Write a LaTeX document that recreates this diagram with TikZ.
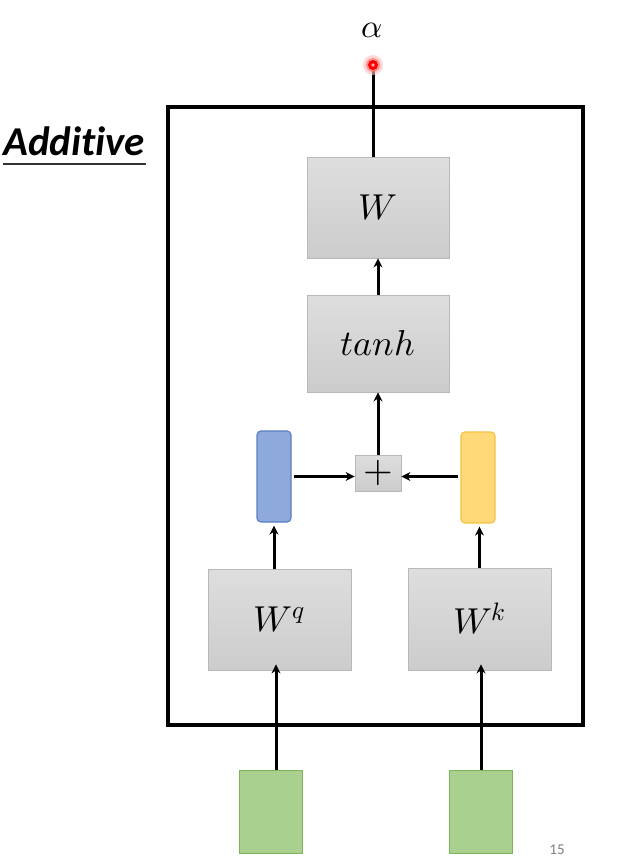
\documentclass[tikz,border=0pt]{standalone}
\usepackage{fontspec}
\usepackage{unicode-math}
\setmathfont{Latin Modern Math}
\setsansfont{Carlito}[Ligatures=CommonOff]
\usetikzlibrary{arrows.meta}
\definecolor{boxborder}{HTML}{B8B8B8}
\definecolor{bluefill}{HTML}{8EA9DB}
\definecolor{blueline}{HTML}{5B7FC7}
\definecolor{yelfill}{HTML}{FFD978}
\definecolor{yelline}{HTML}{F5C242}
\definecolor{grnfill}{HTML}{A9D08E}
\definecolor{grnline}{HTML}{7FB35A}
\tikzset{
  graybox/.style={draw=boxborder, line width=0.8pt, top color=gray!26, bottom color=gray!40, inner sep=0pt, font=\fontsize{36}{40}\selectfont},
  vecblue/.style={draw=blueline, line width=1.2pt, fill=bluefill, rounded corners=4pt, minimum width=34pt, minimum height=91pt, inner sep=0pt},
  vecyel/.style={draw=yelline, line width=1.2pt, fill=yelfill, rounded corners=4pt, minimum width=34pt, minimum height=91pt, inner sep=0pt},
  inbox/.style={draw=grnline, line width=0.8pt, fill=grnfill, minimum width=63pt, minimum height=83pt, inner sep=0pt},
  conn/.style={line width=3pt, -{Stealth[length=9pt,width=9pt]}},
}
\begin{document}
\begin{tikzpicture}[x=1pt,y=-1pt]
\useasboundingbox (0,0) rectangle (640,862);
\fill[white] (0,0) rectangle (640,862);
% outer frame
\draw[line width=4pt] (168,107) rectangle (583,725);
% label
\node[anchor=base west, inner sep=0pt, font=\sffamily\bfseries\itshape\fontsize{41}{44}\selectfont] (lab) at (3,155) {Additive};
\draw[line width=2pt, gray!40!black] (3,163.5) -- (146,163.5);
% boxes
\node[graybox, minimum width=142pt, minimum height=101pt] (W) at (378,207.5) {$W$};
\node[graybox, minimum width=142pt, minimum height=97pt] (T) at (378,343.5) {$tanh$};
\node[graybox, minimum width=46pt, minimum height=36pt, font=\fontsize{38}{38}\selectfont] (P) at (378,473) {$+$};
\node[vecblue] (Q) at (274,476.5) {};
\node[vecyel] (K) at (478,477.5) {};
\node[graybox, minimum width=143pt, minimum height=101pt] (Wq) at (279.5,619.5) {$W^q$};
\node[graybox, minimum width=143pt, minimum height=102pt] (Wk) at (479.5,619) {$W^k$};
\node[inbox] (X1) at (270.5,811.5) {};
\node[inbox] (X2) at (481,811.5) {};
% output dot and label
\coordinate (dot) at (373,65);
\node[font=\fontsize{33}{33}\selectfont] (alpha) at (372,30) {$\alpha$};
% connectors
\coordinate (in1) at (276,770);
\coordinate (in2) at (481,770);
\draw[conn] (in1) -- ([yshift=6pt]Wq.south -| in1);
\draw[conn] (in2) -- ([yshift=6pt]Wk.south -| in2);
\draw[conn] (Wq.north -| Q.south) -- ([yshift=-3pt]Q.south);
\draw[conn] (Wk.north) -- ([yshift=-3pt]K.south -| Wk.north);
\draw[conn] ([xshift=2pt]Q.east) -- (Q.east -| P.west);
\draw[conn] ([xshift=-2pt]K.west |- Q.east) -- (Q.east -| P.east);
\draw[conn] (P.north) -- (T.south);
\draw[conn] (T.north) -- (W.south);
\draw[line width=3pt] (W.north -| dot) -- (dot);
% laser pointer dot
\fill[red!25, opacity=0.6] (dot) circle (10pt);
\fill[red!55, opacity=0.7] (dot) circle (7pt);
\fill[red] (dot) circle (5pt);
\fill[red!30!white] (dot) circle (1.8pt);
% page number
\node[font=\sffamily\fontsize{15}{15}\selectfont, text=gray] (pg) at (557,850) {15};
\end{tikzpicture}
\end{document}
